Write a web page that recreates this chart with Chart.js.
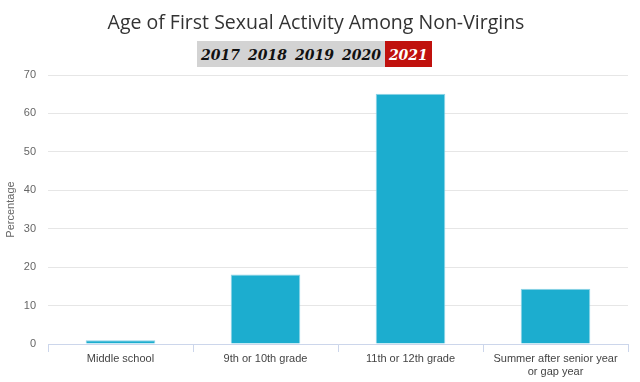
<!DOCTYPE html>
<html>
<head>
<meta charset="utf-8">
<script src="https://cdn.jsdelivr.net/npm/chart.js@4"></script>
<style>
  html, body { margin: 0; padding: 0; background: #fff; }
  #wrap { position: relative; width: 640px; height: 382px; overflow: hidden; }
  #title { position: absolute; left: 0; top: 8px; width: 632px; text-align: center;
           font-family: "Open Sans", sans-serif; font-size: 19.5px; color: #333; font-weight: 400; }
  #tabs { position: absolute; left: 197px; top: 41px; height: 26px; display: flex; }
  #tabs span { display: block; height: 26px; line-height: 28px; font-family: "DejaVu Serif", serif;
           font-style: italic; font-weight: bold; font-size: 14px; color: #111; background: #d3d3d3; padding: 0 4px; }
  #tabs span.active { background: #c0110d; color: #fff; }
  canvas { position: absolute; left: 0; top: 0; }
</style>
</head>
<body>
<div id="wrap">
  <canvas id="c" width="640" height="382"></canvas>
  <div id="title">Age of First Sexual Activity Among Non-Virgins</div>
  <div id="tabs"></div>
</div>
<script>
const title = "Age of First Sexual Activity Among Non-Virgins";
const years = ["2017", "2018", "2019", "2020", "2021"];
const activeYear = "2021";
const categories = ["Middle school", "9th or 10th grade", "11th or 12th grade", ["Summer after senior year", "or gap year"]];
const values = [1.0, 18.1, 65.1, 14.4];
const yTicks = [0, 10, 20, 30, 40, 50, 60, 70];
const yAxisTitle = "Percentage";

document.getElementById('title').textContent = title;
const tabs = document.getElementById('tabs');
years.forEach(y => {
  const s = document.createElement('span');
  s.textContent = y;
  if (y === activeYear) s.className = 'active';
  tabs.appendChild(s);
});

new Chart(document.getElementById('c'), {
  type: 'bar',
  data: {
    labels: categories,
    datasets: [{
      label: yAxisTitle,
      data: values,
      backgroundColor: '#1cadcf',
      borderColor: '#8fd3e6',
      borderWidth: 1,
      categoryPercentage: 1,
      barPercentage: 0.48
    }]
  },
  options: {
    responsive: false,
    animation: false,
    layout: { padding: { top: 75, right: 12, left: 0, bottom: 0 } },
    plugins: { legend: { display: false }, tooltip: { enabled: false }, title: { display: false } },
    scales: {
      x: {
        grid: { offset: true, drawOnChartArea: false, drawTicks: true, tickLength: 8, color: '#ccd6eb' },
        border: { display: true, color: '#ccd6eb' },
        ticks: { color: '#444', font: { family: 'Liberation Sans, Arial, sans-serif', size: 11 }, padding: 0, maxRotation: 0, autoSkip: false },
        afterFit: s => { s.height = 38; }
      },
      y: {
        min: 0, max: 70,
        afterBuildTicks: s => { s.ticks = yTicks.map(v => ({ value: v })); },
        grid: { color: '#e6e6e6', drawTicks: false },
        border: { display: false },
        ticks: { color: '#666', font: { family: 'Liberation Sans, Arial, sans-serif', size: 11 }, padding: 12 },
        title: { display: true, text: yAxisTitle, color: '#666', font: { family: 'Liberation Sans, Arial, sans-serif', size: 11 }, padding: { top: 4, bottom: 0 } },
        afterFit: s => { s.width = 48; }
      }
    }
  }
});
</script>
</body>
</html>
